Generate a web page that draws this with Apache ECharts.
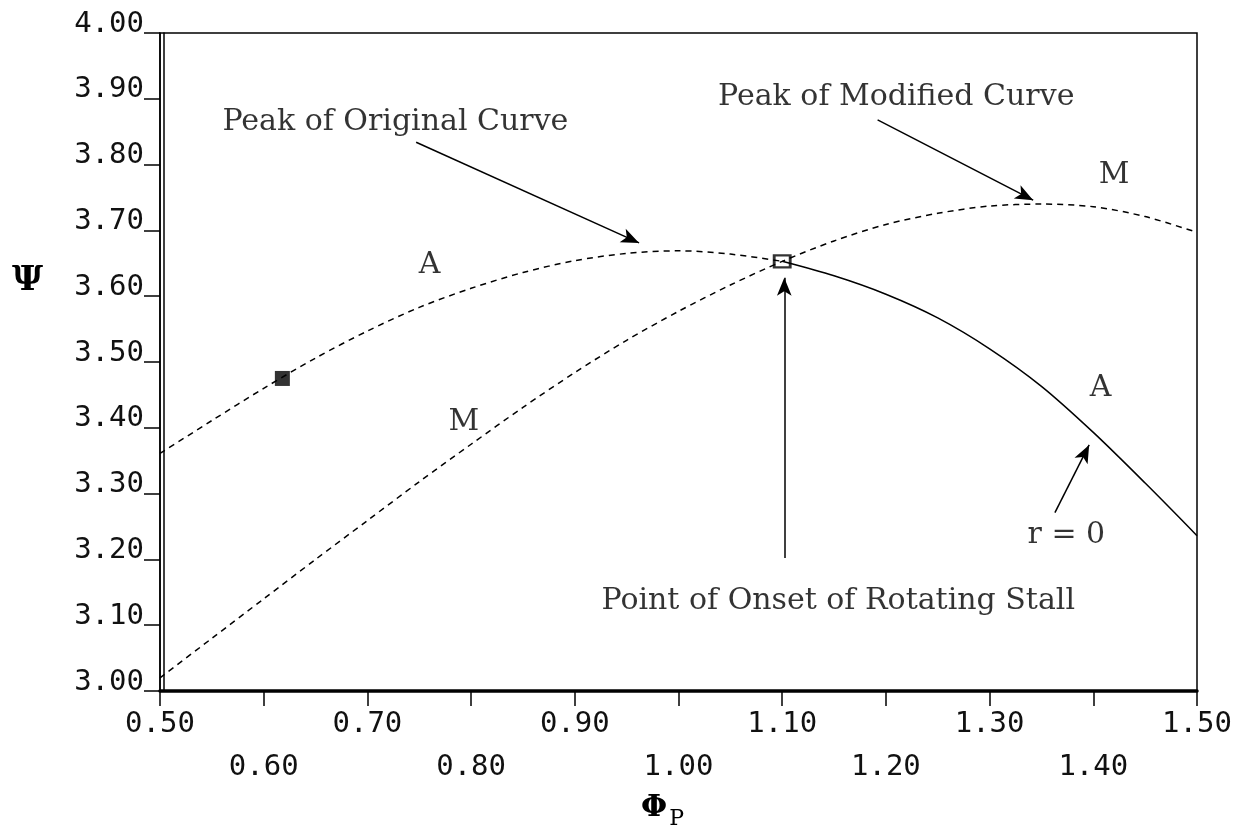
<!DOCTYPE html>
<html lang="en">
<head>
<meta charset="UTF-8">
<title>Psi vs Phi_P - original and modified curves</title>
<script src="https://cdn.jsdelivr.net/npm/echarts@6/dist/echarts.min.js"></script>
<style>
  html,body{margin:0;height:100%;background:#fff;}
  #chart{width:1244px;height:839px;}
</style>
</head>
<body>
<div id="chart"></div>
<script>
// original curve A, pre-stall part (dashed)
const phiA = [0.50,0.55,0.60,0.65,0.70,0.75,0.80,0.85,0.90,0.95,1.00,1.05,1.10];
const psiA = [3.361,3.411,3.460,3.506,3.547,3.583,3.612,3.636,3.654,3.665,3.669,3.664,3.653];
// original curve A after stall onset, r = 0 (solid)
const phiAStall = [1.10,1.15,1.20,1.25,1.30,1.35,1.40,1.45,1.50];
const psiAStall = [3.653,3.631,3.603,3.567,3.520,3.463,3.393,3.316,3.236];
// modified curve M
const phiM = [0.50,0.55,0.60,0.65,0.70,0.75,0.80,0.85,0.90,0.95,1.00,1.05,1.10,1.15,1.20,1.25,1.30,1.35,1.40,1.45,1.50];
const psiM = [3.020,3.080,3.140,3.200,3.259,3.318,3.375,3.431,3.484,3.533,3.577,3.617,3.653,3.684,3.709,3.726,3.737,3.740,3.736,3.721,3.697];
// marked points
const designPoint = [0.618, 3.475];
const stallPoint = [1.10, 3.653];

const xTicks = ['0.50','0.60','0.70','0.80','0.90','1.00','1.10','1.20','1.30','1.40','1.50'];
const yTicks = ['3.00','3.10','3.20','3.30','3.40','3.50','3.60','3.70','3.80','3.90','4.00'];

// annotation texts and their anchor (data coords)
const noteText = ['Peak of Original Curve','Peak of Modified Curve','Point of Onset of Rotating Stall','r = 0','A','M','A','M'];
const noteX = [0.727, 1.210, 1.154, 1.374, 0.760, 0.793, 1.407, 1.420];
const noteY = [3.865, 3.903, 3.137, 3.237, 3.647, 3.409, 3.460, 3.784];
// arrows: from -> to
const arrowFrom = [[0.747,3.834],[1.192,3.868],[1.102,3.202],[1.363,3.271]];
const arrowTo   = [[0.962,3.681],[1.342,3.746],[1.102,3.628],[1.396,3.374]];

const zip = (xs, ys) => xs.map((x,i)=>[x, ys[i]]);
const monoFont = '"DejaVu Sans Mono", monospace';
const serifFont = '"DejaVu Serif", serif';

const chart = echarts.init(document.getElementById('chart'));
chart.setOption({
  animation:false,
  backgroundColor:'#fff',
  grid:{left:160,right:47,top:33,bottom:148,show:true,borderColor:'#000',borderWidth:1.5},
  xAxis:{
    type:'value',min:0.5,max:1.5,interval:0.1,
    axisLine:{show:true,onZero:false,lineStyle:{color:'#000',width:3.5}},
    axisTick:{show:true,length:15,lineStyle:{color:'#000',width:1.5}},
    splitLine:{show:false},
    axisLabel:{
      color:'#111',fontFamily:monoFont,fontSize:29,lineHeight:43,margin:12,
      formatter:(v,i)=> i%2 ? '\n'+xTicks[i] : xTicks[i]
    }
  },
  yAxis:[{
    type:'value',min:3,max:4,interval:0.1,
    axisLine:{show:true,onZero:false,lineStyle:{color:'#000',width:1.5}},
    axisTick:{show:true,length:16,lineStyle:{color:'#000',width:1.5}},
    splitLine:{show:false},
    axisLabel:{
      color:'#111',fontFamily:monoFont,fontSize:29,margin:16,
      verticalAlign:'bottom',lineHeight:18,
      formatter:(v,i)=> yTicks[i]
    }
  },{
    type:'value',min:3,max:4,position:'left',offset:-4,
    axisLine:{show:true,onZero:false,lineStyle:{color:'#000',width:1.5}},
    axisTick:{show:false},axisLabel:{show:false},splitLine:{show:false}
  }],
  graphic:[
    {type:'text',left:12,top:264,style:{text:'Ψ',font:'bold 34px '+serifFont,fill:'#000'}},
    {type:'text',left:641,top:793,style:{
      text:'{a|Φ}{b|P}',
      rich:{
        a:{font:'bold 30px '+serifFont,fill:'#000'},
        b:{font:'22px '+serifFont,fill:'#000',padding:[22,0,0,2]}
      }
    }}
  ],
  series:[
    {
      name:'A',type:'line',data:zip(phiA,psiA),smooth:0.3,showSymbol:false,
      lineStyle:{color:'#000',width:1.5,type:[6,5]}
    },
    {
      name:'A stall',type:'line',data:zip(phiAStall,psiAStall),smooth:0.3,showSymbol:false,
      lineStyle:{color:'#000',width:1.5}
    },
    {
      name:'M',type:'line',data:zip(phiM,psiM),smooth:0.3,showSymbol:false,
      lineStyle:{color:'#000',width:1.5,type:[6,5]}
    },
    {
      name:'design',type:'scatter',data:[designPoint],symbol:'rect',symbolSize:[15,15],
      itemStyle:{color:'#000'}
    },
    {
      name:'stall',type:'scatter',data:[stallPoint],symbol:'rect',symbolSize:[16,12],
      itemStyle:{color:'#fff',borderColor:'#000',borderWidth:2.5}
    },
    {
      name:'notes',type:'scatter',symbolSize:0,silent:true,
      data:noteText.map((t,i)=>({name:t,value:[noteX[i],noteY[i]]})),
      label:{show:true,position:'inside',formatter:p=>p.name,color:'#000',fontFamily:serifFont,fontSize:30},
      markLine:{
        silent:true,symbol:['none','arrow'],symbolSize:[11,18],
        label:{show:false},
        lineStyle:{color:'#000',width:1.5,type:'solid'},
        data:arrowFrom.map((f,i)=>[{coord:f},{coord:arrowTo[i]}])
      }
    }
  ]
});
</script>
</body>
</html>
